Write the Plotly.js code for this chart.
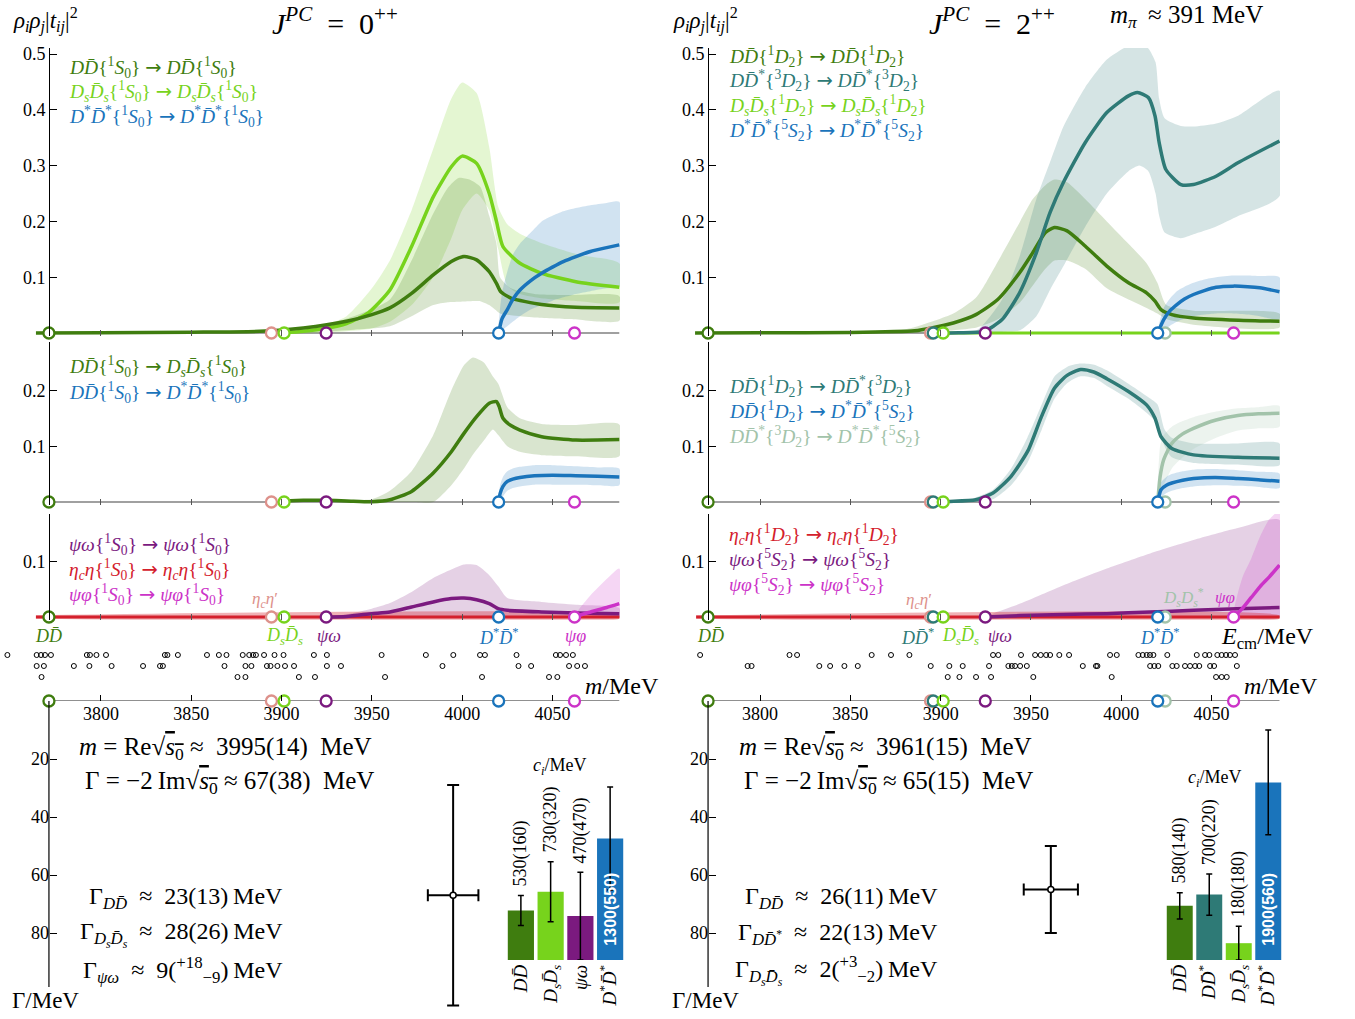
<!DOCTYPE html>
<html><head><meta charset="utf-8">
<script src="https://cdn.plot.ly/plotly-3.0.1.min.js"></script>
<style>body{margin:0;background:#fff}</style>
</head><body><div id="chart" style="width:1355px;height:1019px"></div>
<script>
// ---------------- DATA ----------------
const massTicks = [3800, 3850, 3900, 3950, 4000, 4050];
const thrMass = {DD:3771.2, etacetap:3894.4, DDst:3895.9, DsDs:3901.4, psiom:3924.7, DstDst:4020.2, DsDsst:4024.3, psiphi:4062.2};

// J^PC = 0++ : top panel
const j0_DD_E  = [3764, 3800, 3850, 3888, 3912, 3936, 3950, 3960, 3972, 3984, 3994, 4001, 4008, 4015, 4019, 4021.4, 4027, 4044, 4063, 4087];
const j0_DD_t  = [0, 0.0005, 0.0015, 0.003, 0.009, 0.021, 0.033, 0.045, 0.071, 0.104, 0.128, 0.137, 0.131, 0.11, 0.089, 0.074, 0.0625, 0.051, 0.046, 0.045];
const j0_DD_bE = [3880, 3920, 3940, 3960, 3972, 3984, 3992, 3998, 4004, 4010, 4015, 4019, 4021, 4027, 4040, 4060, 4087];
const j0_DD_hi = [0.003, 0.012, 0.03, 0.06, 0.13, 0.214, 0.26, 0.278, 0.275, 0.262, 0.21, 0.16, 0.1, 0.08, 0.07, 0.068, 0.066];
const j0_DD_lo = [0, 0.002, 0.006, 0.012, 0.03, 0.05, 0.055, 0.056, 0.057, 0.057, 0.05, 0.04, 0.035, 0.032, 0.028, 0.025, 0.022];

const j0_Ds_E  = [3901.4, 3912, 3924, 3936, 3948, 3960, 3972, 3984, 3994, 4000, 4008, 4015, 4019, 4022.6, 4032, 4044, 4063, 4087];
const j0_Ds_t  = [0, 0.003, 0.008, 0.017, 0.036, 0.077, 0.155, 0.244, 0.298, 0.317, 0.304, 0.25, 0.2, 0.155, 0.125, 0.107, 0.092, 0.082];
const j0_Ds_bE = [3901.4, 3920, 3936, 3950, 3960, 3972, 3984, 3994, 4000, 4008, 4015, 4020, 4025, 4032, 4045, 4065, 4087];
const j0_Ds_hi = [0, 0.01, 0.03, 0.08, 0.13, 0.22, 0.33, 0.42, 0.449, 0.43, 0.333, 0.226, 0.195, 0.178, 0.16, 0.14, 0.125];
const j0_Ds_lo = [0, 0, 0.003, 0.008, 0.02, 0.05, 0.1, 0.17, 0.22, 0.25, 0.22, 0.15, 0.085, 0.07, 0.062, 0.057, 0.055];

const j0_St_E  = [4020.2, 4022, 4025, 4028, 4032, 4038, 4044, 4050, 4056, 4063, 4071, 4080, 4087];
const j0_St_t  = [0, 0.025, 0.042, 0.06, 0.077, 0.094, 0.107, 0.118, 0.128, 0.137, 0.146, 0.153, 0.158];
const j0_St_hi = [0, 0.07, 0.11, 0.14, 0.16, 0.18, 0.2, 0.21, 0.218, 0.224, 0.229, 0.233, 0.235];
const j0_St_lo = [0, 0.005, 0.012, 0.02, 0.03, 0.042, 0.05, 0.058, 0.064, 0.07, 0.075, 0.08, 0.083];

// J^PC = 0++ : middle panel
const j0_DDDs_E  = [3901.4, 3912, 3924, 3936, 3950, 3960, 3972, 3984, 3994, 4001, 4008, 4015, 4019, 4020.5, 4022.6, 4027, 4032, 4044, 4063, 4087];
const j0_DDDs_t  = [0.002, 0.003, 0.003, 0.002, 0.0005, 0.004, 0.019, 0.052, 0.09, 0.123, 0.153, 0.177, 0.18, 0.171, 0.15, 0.137, 0.129, 0.117, 0.111, 0.112];
const j0_DDDs_bE = [3901.4, 3930, 3950, 3960, 3972, 3984, 3994, 4001, 4006, 4012, 4017, 4020, 4025, 4032, 4044, 4063, 4087];
const j0_DDDs_hi = [0.004, 0.004, 0.005, 0.02, 0.055, 0.12, 0.2, 0.245, 0.259, 0.25, 0.225, 0.212, 0.17, 0.15, 0.14, 0.138, 0.139];
const j0_DDDs_lo = [0, 0, 0, 0, 0, 0, 0.03, 0.06, 0.085, 0.11, 0.13, 0.12, 0.1, 0.09, 0.084, 0.082, 0.082];

const j0_DDSt_E  = [4020.2, 4021, 4022.6, 4025, 4028, 4032, 4040, 4050, 4063, 4075, 4087];
const j0_DDSt_t  = [0, 0.015, 0.028, 0.037, 0.041, 0.044, 0.047, 0.048, 0.047, 0.046, 0.045];
const j0_DDSt_hi = [0, 0.03, 0.045, 0.055, 0.06, 0.063, 0.066, 0.066, 0.064, 0.062, 0.06];
const j0_DDSt_lo = [0, 0.003, 0.01, 0.02, 0.025, 0.028, 0.031, 0.031, 0.031, 0.03, 0.03];

// J^PC = 0++ : bottom panel
const j0_eta_E = [3764, 4087];
const j0_eta_t = [0, 0];
const j0_pw_E  = [3924.7, 3936, 3950, 3960, 3972, 3984, 3994, 4001, 4008, 4015, 4020, 4025, 4044, 4063, 4087];
const j0_pw_t  = [0, 0.001, 0.006, 0.009, 0.018, 0.027, 0.033, 0.034, 0.031, 0.024, 0.015, 0.012, 0.009, 0.007, 0.006];
const j0_pw_hi = [0, 0.005, 0.015, 0.025, 0.045, 0.07, 0.085, 0.094, 0.093, 0.075, 0.055, 0.034, 0.027, 0.022, 0.016];
const j0_pw_lo = [0, 0, 0, 0, 0, 0, 0, 0, 0, 0, 0, 0, 0, 0, 0];
const j0_pp_E  = [4062.2, 4070, 4080, 4087];
const j0_pp_t  = [0, 0.008, 0.017, 0.024];
const j0_pp_hi = [0, 0.035, 0.068, 0.087];
const j0_pp_lo = [0, 0, 0.001, 0.002];

// J^PC = 2++ : top panel
const j2_DD_E  = [3764, 3800, 3850, 3885.6, 3895, 3907, 3919.5, 3931.6, 3943.7, 3951, 3958, 3963, 3970, 3980, 3992, 4004, 4014, 4018.7, 4022, 4028, 4040, 4065, 4087.6];
const j2_DD_t  = [0, 0.0003, 0.001, 0.004, 0.009, 0.018, 0.033, 0.06, 0.108, 0.144, 0.18, 0.189, 0.183, 0.156, 0.12, 0.09, 0.072, 0.057, 0.042, 0.033, 0.027, 0.023, 0.021];
const j2_DD_bE = [3870, 3885, 3907, 3920, 3932, 3944, 3951, 3958, 3963, 3970, 3980, 3992, 4004, 4014, 4020, 4025, 4040, 4087.6];
const j2_DD_hi = [0, 0.01, 0.035, 0.065, 0.13, 0.2, 0.24, 0.265, 0.275, 0.27, 0.24, 0.2, 0.16, 0.125, 0.09, 0.05, 0.04, 0.035];
const j2_DD_lo = [0, 0, 0.005, 0.01, 0.025, 0.055, 0.085, 0.115, 0.13, 0.13, 0.115, 0.08, 0.06, 0.045, 0.035, 0.025, 0.015, 0.01];

const j2_DSt_E  = [3895.9, 3910, 3924, 3934, 3943.7, 3953, 3960.6, 3968, 3980, 3992, 4004, 4009, 4015, 4018.7, 4021, 4024.7, 4033, 4040, 4052.5, 4064.6, 4087.6];
const j2_DSt_t  = [0, 0.0005, 0.003, 0.024, 0.072, 0.144, 0.216, 0.27, 0.341, 0.395, 0.425, 0.431, 0.422, 0.389, 0.341, 0.293, 0.266, 0.266, 0.281, 0.305, 0.344];
const j2_DSt_bE = [3895.9, 3920, 3934, 3944, 3953, 3961, 3968, 3980, 3992, 4004, 4010, 4015, 4019, 4021, 4024, 4033, 4040, 4052, 4065, 4087.6];
const j2_DSt_hi = [0, 0.005, 0.06, 0.14, 0.24, 0.31, 0.37, 0.44, 0.49, 0.515, 0.52, 0.51, 0.485, 0.42, 0.385, 0.371, 0.37, 0.375, 0.39, 0.434];
const j2_DSt_lo = [0, 0, 0.002, 0.005, 0.03, 0.08, 0.12, 0.19, 0.25, 0.29, 0.3, 0.29, 0.25, 0.21, 0.18, 0.17, 0.177, 0.19, 0.21, 0.245];

const j2_Ds_E = [3901.4, 4087.6];
const j2_Ds_t = [0, 0];

const j2_St_E  = [4020.2, 4023.5, 4027, 4030.8, 4035, 4040, 4046, 4052.5, 4062, 4070, 4076.7, 4087.6];
const j2_St_t  = [0, 0.024, 0.04, 0.051, 0.061, 0.069, 0.076, 0.082, 0.084, 0.083, 0.081, 0.074];
const j2_St_hi = [0, 0.045, 0.062, 0.075, 0.083, 0.09, 0.096, 0.1, 0.103, 0.103, 0.102, 0.1];
const j2_St_lo = [0, 0.005, 0.013, 0.02, 0.026, 0.03, 0.033, 0.035, 0.035, 0.033, 0.03, 0.025];

// J^PC = 2++ : middle panel
const j2_DDDSt_E  = [3895.9, 3905, 3919.5, 3929, 3939, 3948.5, 3955.8, 3963, 3970, 3977.5, 3984.8, 3992, 4004, 4014, 4018.7, 4022, 4028, 4040, 4064.6, 4087.6];
const j2_DDDSt_t  = [0, 0.001, 0.004, 0.016, 0.046, 0.093, 0.153, 0.204, 0.227, 0.2375, 0.233, 0.221, 0.198, 0.174, 0.15, 0.117, 0.096, 0.0845, 0.08, 0.0786];
const j2_DDDSt_bE = [3895.9, 3915, 3929, 3939, 3948, 3956, 3963, 3970, 3977, 3985, 3992, 4004, 4014, 4020, 4024, 4028, 4040, 4064.6, 4087.6];
const j2_DDDSt_hi = [0, 0.004, 0.022, 0.06, 0.115, 0.175, 0.225, 0.242, 0.248, 0.246, 0.236, 0.212, 0.19, 0.175, 0.13, 0.115, 0.105, 0.105, 0.105];
const j2_DDDSt_lo = [0, 0, 0.005, 0.03, 0.07, 0.13, 0.185, 0.213, 0.225, 0.222, 0.208, 0.185, 0.16, 0.14, 0.1, 0.08, 0.07, 0.067, 0.066];

const j2_DDSt_E  = [4020.2, 4022, 4025, 4028, 4034, 4040, 4052, 4064.6, 4076, 4087.6];
const j2_DDSt_t  = [0, 0.022, 0.03, 0.034, 0.039, 0.042, 0.044, 0.042, 0.04, 0.037];
const j2_DDSt_hi = [0, 0.035, 0.045, 0.05, 0.055, 0.058, 0.059, 0.057, 0.054, 0.051];
const j2_DDSt_lo = [0, 0.008, 0.016, 0.02, 0.025, 0.028, 0.03, 0.029, 0.027, 0.025];

const j2_DStSt_E  = [4020.2, 4021.5, 4023.5, 4028, 4034, 4040, 4052.5, 4064.6, 4076, 4087.6];
const j2_DStSt_t  = [0, 0.045, 0.076, 0.105, 0.122, 0.132, 0.147, 0.155, 0.158, 0.159];
const j2_DStSt_hi = [0, 0.1, 0.12, 0.135, 0.145, 0.152, 0.162, 0.168, 0.17, 0.172];
const j2_DStSt_lo = [0, 0.01, 0.03, 0.06, 0.08, 0.095, 0.115, 0.128, 0.132, 0.135];

// J^PC = 2++ : bottom panel
const j2_eta_E = [3764.6, 4087.6];
const j2_eta_t = [0, 0];
const j2_pw_E  = [3924.7, 3944, 3968, 3992, 4016, 4040, 4064, 4087.6];
const j2_pw_t  = [0, 0.0025, 0.0045, 0.006, 0.009, 0.012, 0.015, 0.017];
const j2_pw_hi = [0, 0.024, 0.057, 0.087, 0.114, 0.138, 0.159, 0.174];
const j2_pw_lo = [0, 0, 0, 0, 0, 0, 0, 0];
const j2_pp_E  = [4062.2, 4067, 4072, 4077, 4082, 4087.6];
const j2_pp_t  = [0, 0.015, 0.035, 0.055, 0.072, 0.093];
const j2_pp_hi = [0, 0.07, 0.105, 0.145, 0.175, 0.19];
const j2_pp_lo = [0, 0, 0, 0, 0, 0];

// lattice energy levels (three display rows)
const j0_lev1 = [3748.2, 3764.4, 3766.8, 3769.0, 3772.3, 3792.2, 3793.9, 3797.5, 3802.8, 3835.4, 3836.8, 3842.6, 3858.7, 3865.3, 3869.5, 3878.5, 3882.1, 3884.2, 3885.8, 3890.3, 3896.1, 3901.1, 3917.9, 3925.1, 3955.4, 3979.9, 3995.1, 4009.9, 4012.6, 4030.1, 4051.9, 4054.2, 4057.5, 4061.3];
const j0_lev2 = [3764.4, 3768.4, 3785.0, 3793.6, 3805.9, 3823.3, 3832.7, 3834.3, 3868.4, 3880.0, 3883.3, 3891.9, 3893.9, 3897.7, 3901.9, 3906.9, 3925.1, 3932.9, 3989.1, 4031.2, 4038.2, 4059.2, 4063.7, 4068.0];
const j0_lev3 = [3767.1, 3875.6, 3880.0, 3909.6, 3918.5, 3957.3, 4011.0, 4048.1, 4052.7];
const j2_lev1 = [3766.8, 3816.3, 3820.5, 3861.8, 3872.5, 3882.7, 3929.0, 3931.9, 3944.5, 3952.3, 3955.4, 3958.4, 3960.6, 3965.7, 3971.1, 3993.8, 3997.5, 4009.5, 4011.9, 4014.1, 4015.9, 4017.8, 4025.5, 4041.8, 4046.4, 4048.8, 4053.2, 4055.6, 4058.0, 4060.2, 4063.0];
const j2_lev2 = [3793.1, 3795.3, 3832.8, 3838.8, 3846.7, 3854.1, 3894.5, 3904.8, 3912.2, 3926.8, 3937.5, 3939.4, 3941.2, 3944.0, 3947.7, 3978.7, 3986.0, 3986.8, 4016.0, 4018.3, 4020.5, 4028.3, 4030.7, 4035.3, 4038.1, 4040.9, 4043.2, 4049.2, 4051.4, 4064.0];
const j2_lev3 = [3903.9, 3910.4, 3919.6, 3927.9, 3951.3, 3994.7, 4052.5, 4055.6, 4058.4];

// poles
const poleMass = [3995, 3961];
const poleMassErr = [14, 15];
const poleWidth = [67, 65];
const poleWidthErr = [38, 15];
const j0_partialNames = ['DD', 'DsDs', 'psiom'];
const j0_partialVals = ['23(13)', '28(26)', '9(<sup>+18</sup><sub>−9</sub>)'];
const j2_partialNames = ['DD', 'DDst', 'DsDs'];
const j2_partialVals = ['26(11)', '22(13)', '2(<sup>+3</sup><sub>−2</sub>)'];

// couplings c_i / MeV
const j0_cNames = ['DD', 'DsDs', 'psiom', 'DstDst'];
const j0_cVals = [530, 730, 470, 1300];
const j0_cErrs = [160, 320, 470, 550];
const j2_cNames = ['DD', 'DDst', 'DsDs', 'DstDst'];
const j2_cVals = [580, 700, 180, 1900];
const j2_cErrs = [140, 220, 180, 560];

// ---------------- STYLE ----------------
const W = 1355, H = 1019;
const SERIF = "'Liberation Serif', 'DejaVu Serif', serif";
const COL = {DD:'#3f7d0f', DsDs:'#77d31c', DstDst:'#1a74bb', psiom:'#7b1a7f', psiphi:'#cc33c8',
             eta:'#d4202c', etacetap:'#dd918b', DDst:'#2e7a76', DsDsst:'#a2c3aa'};
function rgba(hex, a){const n=parseInt(hex.slice(1),16);return `rgba(${n>>16},${(n>>8)&255},${n&255},${a})`;}
const fx = px => px / W, fy = py => 1 - py / H;

const T = {
  DD: '<i>D</i><i>D\u0304</i>',
  DDst: '<i>D</i><i>D\u0304</i><sup>*</sup>',
  DsDs: '<i>D</i><sub><i>s</i></sub><i>D\u0304</i><sub><i>s</i></sub>',
  DstDst: '<i>D</i><sup>*</sup><i>D\u0304</i><sup>*</sup>',
  psiom: '<i>ψω</i>', psiphi: '<i>ψφ</i>',
  eta: '<i>η</i><sub><i>c</i></sub><i>η</i>',
  etacetap: '<i>η</i><sub><i>c</i></sub><i>η</i>′',
  DsDsst: '<i>D</i><sub><i>s</i></sub><i>D</i><sub><i>s</i></sub><sup>*</sup>'
};
const pw = (s, L, j) => `{<sup>${s}</sup><i>${L}</i><sub>${j}</sub>}`;
const arrow = ' <span style="font-family:DejaVu Sans">→</span> ';

const layout = {width:W, height:H, margin:{l:0,r:0,t:0,b:0}, paper_bgcolor:'white', plot_bgcolor:'rgba(0,0,0,0)',
  showlegend:false, bargap:0.12, font:{family:SERIF, size:17, color:'black'}, annotations:[], shapes:[]};
const data = [];
let nAx = 0;
function sub(xpx, ypx, xo, yo){
  nAx++; const s = nAx===1 ? '' : String(nAx);
  const xa='x'+s, ya='y'+s;
  const base = {showgrid:false, zeroline:false, showline:false, showticklabels:false, ticks:'', fixedrange:true};
  layout['xaxis'+s] = Object.assign({}, base, {domain:[fx(xpx[0]), fx(xpx[1])], anchor:ya}, xo||{});
  layout['yaxis'+s] = Object.assign({}, base, {domain:[fy(ypx[0]), fy(ypx[1])], anchor:xa}, yo||{});
  return {xa, ya};
}
function ann(text, px, py, o){ layout.annotations.push(Object.assign({text, x:fx(px), y:fy(py), xref:'paper', yref:'paper', showarrow:false, xanchor:'left', yanchor:'middle', font:{family:SERIF, size:18, color:'black'}}, o||{})); }
function band(ax, E, lo, hi, color, a){
  data.push({type:'scatter', mode:'lines', xaxis:ax.xa, yaxis:ax.ya, x:E.concat(E.slice().reverse()), y:hi.concat(lo.slice().reverse()),
    fill:'toself', fillcolor:rgba(color, a||0.2), line:{width:0, shape:'spline', smoothing:0.6}, hoverinfo:'skip'});
}
function curve(ax, E, v, color, w){
  data.push({type:'scatter', mode:'lines', xaxis:ax.xa, yaxis:ax.ya, x:E, y:v, line:{color, width:w||3.5, shape:'spline', smoothing:0.6}, hoverinfo:'skip'});
}
function thresholds(ax, keys){
  data.push({type:'scatter', mode:'markers', xaxis:ax.xa, yaxis:ax.ya, x:keys.map(k=>thrMass[k]), y:keys.map(()=>0), cliponaxis:false,
    marker:{symbol:'circle', size:11, color:'white', line:{width:2.3, color:keys.map(k=>COL[k])}}, hoverinfo:'skip'});
}

const PXU = 558, PAD = 0.005;
const cols = [
  {xdom:[0,620], xr:[3744.1,4087.4], yx:49, end:4087, thr:['DD','etacetap','DsDs','psiom','DstDst','psiphi']},
  {xdom:[690,1280], xr:[3761.2,4087.9], yx:708, end:4087.6, thr:['DD','etacetap','DDst','DsDs','psiom','DsDsst','DstDst','psiphi']}
];
function panel(c, zeroPy, topPy, tickvals){
  const ax = sub(c.xdom, [zeroPy + PAD*PXU, topPy],
    {range:c.xr, ticks:'inside', ticklen:6, tickwidth:1, tickcolor:'#555', tickvals:massTicks},
    {range:[-PAD, (zeroPy-topPy)/PXU], anchor:'free', position:fx(c.yx), showline:true, linecolor:'black', linewidth:1,
     ticks:'inside', ticklen:7, tickwidth:1, tickcolor:'black', tickvals, ticktext:tickvals.map(v=>v.toFixed(1)),
     showticklabels:true, tickfont:{family:SERIF, size:18}});
  layout.shapes.push({type:'line', xref:ax.xa, yref:ax.ya, x0:thrMass.DD, x1:c.end, y0:0, y1:0, line:{color:'#808080', width:1.5}, layer:'below'});
  return ax;
}

// ---------- left column (0++) ----------
const cL = cols[0], cR = cols[1];
let a;
a = panel(cL, 333, 48, [0.1,0.2,0.3,0.4,0.5]);
band(a, j0_Ds_bE, j0_Ds_lo, j0_Ds_hi, COL.DsDs);
band(a, j0_DD_bE, j0_DD_lo, j0_DD_hi, COL.DD);
band(a, j0_St_E, j0_St_lo, j0_St_hi, COL.DstDst);
curve(a, j0_Ds_E, j0_Ds_t, COL.DsDs);
curve(a, j0_DD_E, j0_DD_t, COL.DD);
curve(a, j0_St_E, j0_St_t, COL.DstDst);
thresholds(a, cL.thr);

a = panel(cL, 502, 342, [0.1,0.2]);
band(a, j0_DDDs_bE, j0_DDDs_lo, j0_DDDs_hi, COL.DD);
band(a, j0_DDSt_E, j0_DDSt_lo, j0_DDSt_hi, COL.DstDst);
curve(a, j0_DDDs_E, j0_DDDs_t, COL.DD);
curve(a, j0_DDSt_E, j0_DDSt_t, COL.DstDst);
thresholds(a, cL.thr);

a = panel(cL, 617, 514, [0.1]);
band(a, j0_pw_E, j0_pw_lo, j0_pw_hi, COL.psiom);
band(a, j0_pp_E, j0_pp_lo, j0_pp_hi, COL.psiphi);
band(a, j0_eta_E, j0_eta_t.map(v=>v-0.003), j0_eta_t.map(v=>v+0.003), COL.eta, 0.35);
curve(a, j0_eta_E, j0_eta_t, COL.eta, 3);
curve(a, j0_pw_E, j0_pw_t, COL.psiom);
curve(a, j0_pp_E, j0_pp_t, COL.psiphi);
thresholds(a, cL.thr);

// ---------- right column (2++) ----------
a = panel(cR, 333, 48, [0.1,0.2,0.3,0.4,0.5]);
band(a, j2_DD_bE, j2_DD_lo, j2_DD_hi, COL.DD);
band(a, j2_DSt_bE, j2_DSt_lo, j2_DSt_hi, COL.DDst);
band(a, j2_St_E, j2_St_lo, j2_St_hi, COL.DstDst);
curve(a, j2_Ds_E, j2_Ds_t, COL.DsDs, 3);
curve(a, j2_DD_E, j2_DD_t, COL.DD);
curve(a, j2_DSt_E, j2_DSt_t, COL.DDst);
curve(a, j2_St_E, j2_St_t, COL.DstDst);
thresholds(a, cR.thr);

a = panel(cR, 502, 342, [0.1,0.2]);
band(a, j2_DDDSt_bE, j2_DDDSt_lo, j2_DDDSt_hi, COL.DDst);
band(a, j2_DStSt_E, j2_DStSt_lo, j2_DStSt_hi, COL.DsDsst);
band(a, j2_DDSt_E, j2_DDSt_lo, j2_DDSt_hi, COL.DstDst);
curve(a, j2_DStSt_E, j2_DStSt_t, COL.DsDsst);
curve(a, j2_DDDSt_E, j2_DDDSt_t, COL.DDst);
curve(a, j2_DDSt_E, j2_DDSt_t, COL.DstDst);
thresholds(a, cR.thr);

a = panel(cR, 617, 514, [0.1]);
band(a, j2_pw_E, j2_pw_lo, j2_pw_hi, COL.psiom);
band(a, j2_pp_E, j2_pp_lo, j2_pp_hi, COL.psiphi);
band(a, j2_eta_E, j2_eta_t.map(v=>v-0.003), j2_eta_t.map(v=>v+0.003), COL.eta, 0.35);
curve(a, j2_eta_E, j2_eta_t, COL.eta, 3);
curve(a, j2_pw_E, j2_pw_t, COL.psiom);
curve(a, j2_pp_E, j2_pp_t, COL.psiphi);
thresholds(a, cR.thr);

// ---------- levels, mass axes, Gamma planes, couplings ----------
function levels(c, r1, r2, r3){
  const ax = sub(c.xdom, [690, 640], {range:c.xr}, {range:[4.18, -0.364]});
  const xs = r1.concat(r2, r3), ys = r1.map(()=>1).concat(r2.map(()=>2), r3.map(()=>3));
  data.push({type:'scatter', mode:'markers', xaxis:ax.xa, yaxis:ax.ya, x:xs, y:ys, cliponaxis:false,
    marker:{symbol:'circle-open', size:5, color:'black', line:{width:1}}, hoverinfo:'skip'});
}
levels(cL, j0_lev1, j0_lev2, j0_lev3);
levels(cR, j2_lev1, j2_lev2, j2_lev3);

function massAxis(c){
  const ax = sub(c.xdom, [701, 691], {range:c.xr, ticks:'inside', ticklen:6, tickwidth:1, tickcolor:'black', tickvals:massTicks,
    showticklabels:true, tickfont:{family:SERIF, size:18}}, {range:[0,1]});
  layout.shapes.push({type:'line', xref:ax.xa, yref:ax.ya, x0:thrMass.DD, x1:c.end, y0:0, y1:0, line:{color:'#222', width:1.2}, layer:'below'});
  thresholds(ax, c.thr);
  return ax;
}
const mL = massAxis(cL), mR = massAxis(cR);

function gammaPlane(c, i){
  const ax = sub(c.xdom, [1010, 701], {range:c.xr},
    {range:[106.55, 0], anchor:'free', position:fx(c.yx), ticks:'inside', ticklen:7, tickwidth:1, tickcolor:'black',
     tickvals:[20,40,60,80], showticklabels:true, tickfont:{family:SERIF, size:18}});
  layout.shapes.push({type:'line', xref:ax.xa, yref:ax.ya, x0:thrMass.DD, x1:thrMass.DD, y0:0, y1:98.6, line:{color:'black', width:1.2}});
  data.push({type:'scatter', mode:'markers', xaxis:ax.xa, yaxis:ax.ya, x:[poleMass[i]], y:[poleWidth[i]], cliponaxis:false,
    marker:{size:6, color:'white', line:{color:'black', width:1.5}},
    error_x:{type:'data', array:[poleMassErr[i]], color:'black', thickness:2, width:6},
    error_y:{type:'data', array:[poleWidthErr[i]], color:'black', thickness:2, width:6}, hoverinfo:'skip'});
}
gammaPlane(cL, 0);
gammaPlane(cR, 1);

function couplings(xpx, names, vals, errs, labPx){
  const idx = names.map((_, k)=>k);
  const ax = sub(xpx, [960, 700], {range:[-0.5, names.length-0.5], tickvals:idx, ticktext:names.map(n=>T[n]), showticklabels:true,
    tickangle:-90, tickfont:{family:SERIF, size:19}}, {range:[0, 2782]});
  data.push({type:'bar', xaxis:ax.xa, yaxis:ax.ya, x:idx, y:vals, marker:{color:names.map(n=>COL[n])},
    error_y:{type:'data', array:errs, color:'black', thickness:1.5, width:3}, hoverinfo:'skip'});
  idx.forEach(k=>{
    const txt = `${vals[k]}(${errs[k]})`;
    if (names[k] === 'DstDst') {
      layout.annotations.push({text:txt, x:k, y:0, xref:ax.xa, yref:ax.ya, yshift:12, textangle:-90, showarrow:false,
        xanchor:'center', yanchor:'bottom', font:{family:"'Liberation Sans', Arial, sans-serif", size:16, color:'white', weight:'bold'}});
    } else {
      layout.annotations.push({text:txt, x:k, y:vals[k]+errs[k], xref:ax.xa, yref:ax.ya, yshift:7, textangle:-90, showarrow:false,
        xanchor:'center', yanchor:'bottom', font:{family:SERIF, size:18, color:'black'}});
    }
  });
  ann('<i>c</i><sub><i>i</i></sub>/MeV', labPx[0], labPx[1], {xanchor:'center', font:{family:SERIF, size:18}});
}
couplings([506, 625], j0_cNames, j0_cVals, j0_cErrs, [560, 766]);
couplings([1165, 1283], j2_cNames, j2_cVals, j2_cErrs, [1215, 778]);

// ---------- text ----------
const rhoT = '<i>ρ</i><sub><i>i</i></sub><i>ρ</i><sub><i>j</i></sub>|<i>t</i><sub><i>ij</i></sub>|<sup>2</sup>';
ann(rhoT, 11, 20, {font:{family:SERIF, size:23}});
ann(rhoT, 671, 20, {font:{family:SERIF, size:23}});
ann('<i>J</i><sup><i>PC</i></sup>\u2002=\u20020<sup>++</sup>', 335, 21, {xanchor:'center', font:{family:SERIF, size:30}});
ann('<i>J</i><sup><i>PC</i></sup>\u2002=\u20022<sup>++</sup>', 992, 21, {xanchor:'center', font:{family:SERIF, size:30}});
ann('<i>m</i><sub><i>π</i></sub>\u2009 ≈ 391 MeV', 1108, 17, {font:{family:SERIF, size:25}});

// legends
const legL = [
  [67, 67, COL.DD, T.DD+pw(1,'S',0)+arrow+T.DD+pw(1,'S',0)],
  [67, 92, COL.DsDs, T.DsDs+pw(1,'S',0)+arrow+T.DsDs+pw(1,'S',0)],
  [67, 117, COL.DstDst, T.DstDst+pw(1,'S',0)+arrow+T.DstDst+pw(1,'S',0)],
  [67, 366, COL.DD, T.DD+pw(1,'S',0)+arrow+T.DsDs+pw(1,'S',0)],
  [67, 392, COL.DstDst, T.DD+pw(1,'S',0)+arrow+T.DstDst+pw(1,'S',0)],
  [67, 544, COL.psiom, T.psiom+pw(1,'S',0)+arrow+T.psiom+pw(1,'S',0)],
  [67, 569, COL.eta, T.eta+pw(1,'S',0)+arrow+T.eta+pw(1,'S',0)],
  [67, 594, COL.psiphi, T.psiphi+pw(1,'S',0)+arrow+T.psiphi+pw(1,'S',0)],
  [727, 56, COL.DD, T.DD+pw(1,'D',2)+arrow+T.DD+pw(1,'D',2)],
  [727, 80, COL.DDst, T.DDst+pw(3,'D',2)+arrow+T.DDst+pw(3,'D',2)],
  [727, 105, COL.DsDs, T.DsDs+pw(1,'D',2)+arrow+T.DsDs+pw(1,'D',2)],
  [727, 130, COL.DstDst, T.DstDst+pw(5,'S',2)+arrow+T.DstDst+pw(5,'S',2)],
  [727, 386, COL.DDst, T.DD+pw(1,'D',2)+arrow+T.DDst+pw(3,'D',2)],
  [727, 411, COL.DstDst, T.DD+pw(1,'D',2)+arrow+T.DstDst+pw(5,'S',2)],
  [727, 436, COL.DsDsst, T.DDst+pw(3,'D',2)+arrow+T.DstDst+pw(5,'S',2)],
  [727, 534, COL.eta, T.eta+pw(1,'D',2)+arrow+T.eta+pw(1,'D',2)],
  [727, 559, COL.psiom, T.psiom+pw(5,'S',2)+arrow+T.psiom+pw(5,'S',2)],
  [727, 584, COL.psiphi, T.psiphi+pw(5,'S',2)+arrow+T.psiphi+pw(5,'S',2)]
];
legL.forEach(([x, y, c, t]) => ann(t, x, y, {font:{family:SERIF, size:19.5, color:c}}));

// threshold labels under the bottom panels
function thrLab(ax, key, anchor, shift){
  layout.annotations.push({text:T[key], x:thrMass[key], y:fy(636), xref:ax.xa, yref:'paper', showarrow:false,
    xanchor:anchor, yanchor:'middle', xshift:shift, font:{family:SERIF, size:18, color:COL[key]}});
}
thrLab(mL, 'DD', 'center', 0); thrLab(mL, 'DsDs', 'center', 0); thrLab(mL, 'psiom', 'center', 3);
thrLab(mL, 'DstDst', 'center', 0); thrLab(mL, 'psiphi', 'center', 1);
thrLab(mR, 'DD', 'center', 2); thrLab(mR, 'DDst', 'right', 3); thrLab(mR, 'DsDs', 'left', -3);
thrLab(mR, 'psiom', 'left', 1); thrLab(mR, 'DstDst', 'center', 2);
// small labels inside bottom panels
function inLab(ax, key, anchor, shift, py){
  layout.annotations.push({text:T[key], x:thrMass[key], y:fy(py), xref:ax.xa, yref:'paper', showarrow:false,
    xanchor:anchor, yanchor:'middle', xshift:shift, font:{family:SERIF, size:17, color:COL[key]}});
}
inLab(mL, 'etacetap', 'center', -6, 600);
inLab(mR, 'etacetap', 'center', -12, 601);
inLab(mR, 'DsDsst', 'left', -4, 597);
inLab(mR, 'psiphi', 'right', 3, 597);

ann('<i>E</i><sub>cm</sub>/MeV', 1219, 638, {font:{family:SERIF, size:24}});
ann('<i>m</i>/MeV', 661, 686, {xanchor:'right', font:{family:SERIF, size:24}});
ann('<i>m</i>/MeV', 1320, 686, {xanchor:'right', font:{family:SERIF, size:24}});
ann('Γ/MeV', 10, 1000, {font:{family:SERIF, size:23}});
ann('Γ/MeV', 670, 1000, {font:{family:SERIF, size:23}});

// pole texts
const sqrtS0 = '√<span style="text-decoration:overline"><i>s</i><sub>0</sub></span>';
[[77, 83, 285], [737, 742, 940]].forEach(([xm, xg, xr], i) => {
  ann(`<i>m</i> = Re${sqrtS0} ≈\u00a0 ${poleMass[i]}(${poleMassErr[i]})\u00a0 MeV`, xm, 748, {font:{family:SERIF, size:25}});
  ann(`Γ = −2\u2009Im${sqrtS0} ≈ ${poleWidth[i]}(${poleWidthErr[i]})\u00a0 MeV`, xg, 782, {font:{family:SERIF, size:25}});
  const names = i===0 ? j0_partialNames : j2_partialNames;
  const vals = i===0 ? j0_partialVals : j2_partialVals;
  names.forEach((n, k) => {
    ann(`Γ<sub>${T[n]}</sub>\u00a0 ≈\u00a0 ${vals[k]}\u2009MeV`, xr, 898 + k*36, {xanchor:'right', font:{family:SERIF, size:24}});
  });
});

Plotly.newPlot('chart', data, layout, {staticPlot:true, displayModeBar:false});
</script></body></html>
